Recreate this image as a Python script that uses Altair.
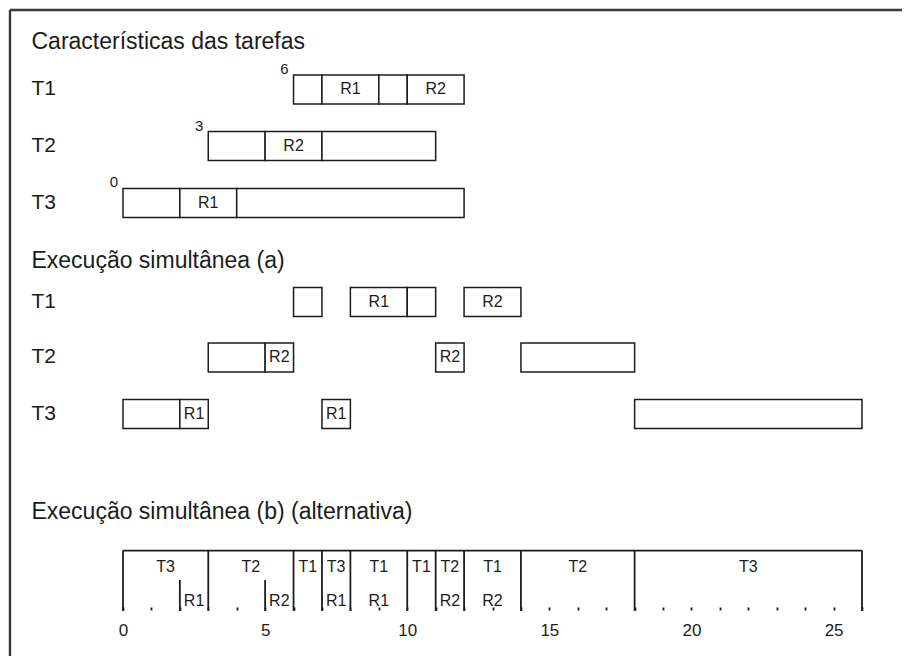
import altair as alt
import pandas as pd

# ---------------- data ----------------
tasks = ["T1", "T2", "T3"]
release = [6, 3, 0]

# Características das tarefas: segments per task (start, end, resource)
char_task = ["T1", "T1", "T1", "T1", "T2", "T2", "T2", "T3", "T3", "T3"]
char_start = [6, 7, 9, 10, 3, 5, 7, 0, 2, 4]
char_end = [7, 9, 10, 12, 5, 7, 11, 2, 4, 12]
char_res = ["", "R1", "", "R2", "", "R2", "", "", "R1", ""]

# Execução simultânea (a)
exa_task = ["T1", "T1", "T1", "T1", "T2", "T2", "T2", "T2", "T3", "T3", "T3", "T3"]
exa_start = [6, 8, 10, 12, 3, 5, 11, 14, 0, 2, 7, 18]
exa_end = [7, 10, 11, 14, 5, 6, 12, 18, 2, 3, 8, 26]
exa_res = ["", "R1", "", "R2", "", "R2", "R2", "", "", "R1", "R1", ""]

# Execução simultânea (b) (alternativa): time slots
exb_task = ["T3", "T2", "T1", "T3", "T1", "T1", "T2", "T1", "T2", "T3"]
exb_start = [0, 3, 6, 7, 8, 10, 11, 12, 14, 18]
exb_end = [3, 6, 7, 8, 10, 11, 12, 14, 18, 26]
# resource use inside slots
exb_res = ["R1", "R2", "R1", "R1", "R2", "R2"]
exb_res_start = [2, 5, 7, 8, 11, 12]
exb_res_end = [3, 6, 8, 10, 12, 14]

titles = ["Características das tarefas", "Execução simultânea (a)",
          "Execução simultânea (b) (alternativa)"]

# ---------------- layout (lanes) ----------------
LABEL_X = -3.22
ROW_S1 = {"T1": 1.417, "T2": 2.40, "T3": 3.39}
ROW_S2 = {"T1": 5.113, "T2": 6.078, "T3": 7.06}
TITLE_Y = [0.59, 4.40, 8.76]
HALF = 0.252
TL_TOP, TL_BOT, TL_SHORT = 9.435, 10.487, 9.948
TL_LAB1, TL_LAB2 = 9.72, 10.313
FRAME_X, FRAME_Y, FRAME_R, FRAME_B = -3.976, 0.035, 27.5, 11.4

FONT = "Liberation Sans"
INK = "#1c1c1c"

xs = alt.Scale(domain=[-4.046, 27.407], nice=False, zero=False)
ys = alt.Scale(domain=[0, 10.417], reverse=True, nice=False, zero=False)
xaxis = alt.Axis(values=list(range(0, 27)), labelExpr="datum.value % 5 === 0 ? datum.label : ''",
                 domain=False, grid=False, tickSize=3, tickWidth=1.8, tickColor=INK,
                 labelFont=FONT, labelFontSize=17, labelColor=INK, labelPadding=12,
                 title=None, labelFlush=False)


def X(f):
    return alt.X(f, type="quantitative", scale=xs, axis=xaxis)


def Y(f):
    return alt.Y(f, type="quantitative", scale=ys, axis=None)


# ---------------- tables ----------------
def seg_table(task, start, end, res, rows):
    df = pd.DataFrame({"task": task, "start": start, "end": end, "res": res})
    df["yc"] = df["task"].map(rows)
    df["y0"] = df["yc"] - HALF
    df["y1"] = df["yc"] + HALF
    df["mid"] = (df["start"] + df["end"]) / 2
    return df


s1 = seg_table(char_task, char_start, char_end, char_res, ROW_S1)
s2 = seg_table(exa_task, exa_start, exa_end, exa_res, ROW_S2)
segs = pd.concat([s1, s2], ignore_index=True)
seg_lab = segs[segs["res"] != ""]

row_labels = pd.DataFrame({
    "txt": tasks + tasks,
    "x": [LABEL_X] * 6,
    "y": [ROW_S1[t] for t in tasks] + [ROW_S2[t] for t in tasks],
})
title_df = pd.DataFrame({"txt": titles, "x": [LABEL_X] * 3, "y": TITLE_Y})
rel_df = pd.DataFrame({"txt": [str(r) for r in release], "x": release,
                       "y": [ROW_S1[t] - HALF for t in tasks]})

frame = pd.DataFrame({"x": [FRAME_X, FRAME_X], "x2": [FRAME_X, FRAME_R],
                      "y": [FRAME_Y, FRAME_Y], "y2": [FRAME_B, FRAME_Y]})

bounds = sorted(set(exb_start + exb_end))
tl_lines = pd.DataFrame({"x": bounds, "y": [TL_TOP] * len(bounds), "y2": [TL_BOT] * len(bounds)})
short = [s for s in exb_res_start if s not in bounds]
tl_short = pd.DataFrame({"x": short, "y": [TL_SHORT] * len(short), "y2": [TL_BOT] * len(short)})
tl_top = pd.DataFrame({"x": [min(bounds)], "x2": [max(bounds)], "y": [TL_TOP]})
tl_tasks = pd.DataFrame({"txt": exb_task,
                         "x": [(a + b) / 2 for a, b in zip(exb_start, exb_end)],
                         "y": [TL_LAB1] * len(exb_task)})
tl_res = pd.DataFrame({"txt": exb_res,
                       "x": [(a + b) / 2 for a, b in zip(exb_res_start, exb_res_end)],
                       "y": [TL_LAB2] * len(exb_res)})

# ---------------- layers ----------------
frame_l = alt.Chart(frame).mark_rule(color="#3a3a3a", strokeWidth=2.4).encode(
    x=X("x"), x2="x2", y=Y("y"), y2="y2")

rects = alt.Chart(segs).mark_rect(fill="white", stroke=INK, strokeWidth=1.5).encode(
    x=X("start"), x2="end", y=Y("y0"), y2="y1")

seg_txt = alt.Chart(seg_lab).mark_text(font=FONT, fontSize=16, color=INK, baseline="middle").encode(
    x=X("mid"), y=Y("yc"), text="res")

rowl = alt.Chart(row_labels).mark_text(font=FONT, fontSize=21, color=INK, align="left",
                                       baseline="middle").encode(x=X("x"), y=Y("y"), text="txt")
titl = alt.Chart(title_df).mark_text(font=FONT, fontSize=23, color=INK, align="left",
                                     baseline="middle").encode(x=X("x"), y=Y("y"), text="txt")
rel = alt.Chart(rel_df).mark_text(font=FONT, fontSize=15, color=INK, align="right",
                                  baseline="alphabetic", dx=-5, dy=-1).encode(x=X("x"), y=Y("y"), text="txt")

tl_top_l = alt.Chart(tl_top).mark_rule(color=INK, strokeWidth=1.8).encode(x=X("x"), x2="x2", y=Y("y"))
tl_lines_l = alt.Chart(tl_lines).mark_rule(color=INK, strokeWidth=1.8).encode(x=X("x"), y=Y("y"), y2="y2")
tl_short_l = alt.Chart(tl_short).mark_rule(color=INK, strokeWidth=1.8).encode(x=X("x"), y=Y("y"), y2="y2")
tl_tasks_l = alt.Chart(tl_tasks).mark_text(font=FONT, fontSize=16, color=INK, baseline="middle").encode(
    x=X("x"), y=Y("y"), text="txt")
tl_res_l = alt.Chart(tl_res).mark_text(font=FONT, fontSize=16, color=INK, baseline="middle").encode(
    x=X("x"), y=Y("y"), text="txt")

chart = alt.layer(frame_l, rects, seg_txt, rowl, titl, rel, tl_top_l, tl_lines_l, tl_short_l,
                  tl_tasks_l, tl_res_l).properties(
    width=894, height=599,
    autosize=alt.AutoSizeParams(type="none"),
    padding={"left": 0, "top": 0, "right": 0, "bottom": 49},
    background="white",
).configure_view(stroke=None)

chart.save("out.html", embed_options={"renderer": "svg", "actions": False})
